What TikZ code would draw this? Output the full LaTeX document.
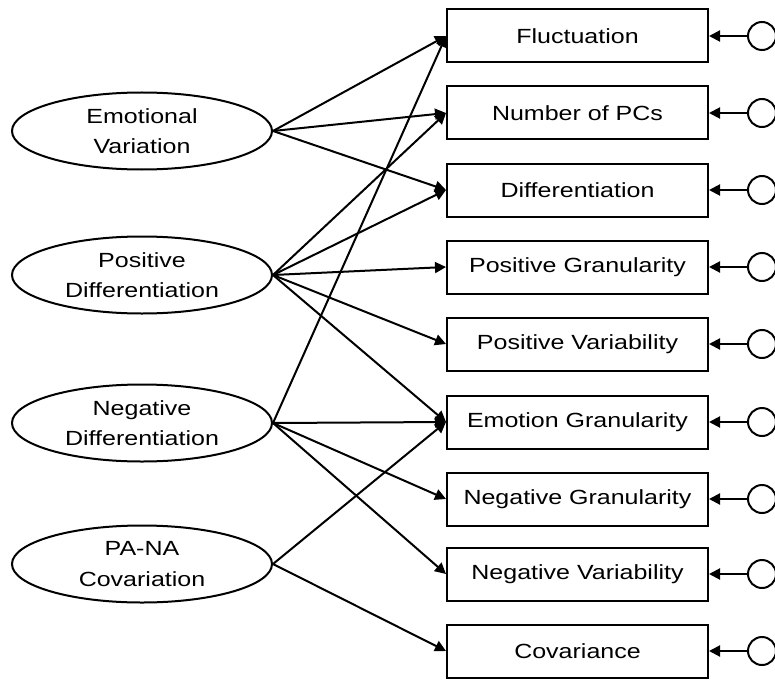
\documentclass[tikz,border=0pt]{standalone}
\usepackage{fontspec}
\setmainfont[FakeStretch=1.22]{Liberation Sans}
\usetikzlibrary{arrows.meta, positioning, shapes.geometric}

\begin{document}
\begin{tikzpicture}[
    x=1pt,
    y=1pt,
    line width=2pt,
    -{Triangle[length=11pt, width=11pt]},
    on grid,
    latent/.style={ellipse, draw, minimum width=260pt, minimum height=77pt,
        inner sep=0pt, align=center, font=\fontsize{20.5}{30.5}\selectfont},
    observed/.style={rectangle, draw, minimum width=261pt, minimum height=53pt,
        inner sep=0pt, font=\fontsize{20.5}{24}\selectfont},
    residual/.style={circle, draw, minimum size=28pt, inner sep=0pt},
]
    \useasboundingbox (0,0) rectangle (775,-679);

    % indicators
    \node[observed]                    (fluc)  at (577.5,-36) {Fluctuation};
    \node[observed, below=77pt of fluc]  (npc)   {Number of PCs};
    \node[observed, below=77pt of npc]   (diff)  {Differentiation};
    \node[observed, below=77pt of diff]  (pgran) {Positive Granularity};
    \node[observed, below=77pt of pgran] (pvar)  {Positive Variability};
    \node[observed, below=78pt of pvar]  (egran) {Emotion Granularity};
    \node[observed, below=77pt of egran] (ngran) {Negative Granularity};
    \node[observed, below=75pt of ngran] (nvar)  {Negative Variability};
    \node[observed, below=77pt of nvar]  (cov)   {Covariance};

    % factors
    \node[latent]                    (ev)   at (142,-131) {Emotional\\Variation};
    \node[latent, below=144pt of ev] (pd)   {Positive\\Differentiation};
    \node[latent, below=148pt of pd] (nd)   {Negative\\Differentiation};
    \node[latent, below=141pt of nd] (pana) {PA-NA\\Covariation};

    % error terms
    \foreach \b in {fluc, npc, diff, pgran, pvar, egran, ngran, nvar, cov} {
        \node[residual, right=184.5pt of \b] (e\b) {};
        \draw (e\b) -- (\b);
    }

    % loadings
    \foreach \s/\t in {ev/fluc, ev/npc, ev/diff,
                       pd/npc, pd/diff, pd/pgran, pd/pvar, pd/egran,
                       nd/fluc, nd/egran, nd/ngran, nd/nvar,
                       pana/egran, pana/cov}
        \draw (\s.east) -- (\t.west);
\end{tikzpicture}
\end{document}
